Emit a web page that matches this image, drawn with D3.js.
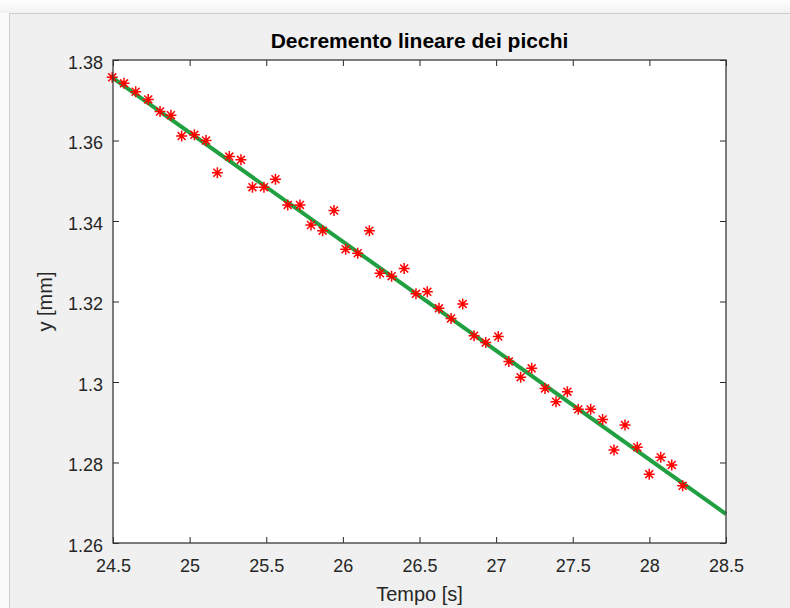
<!DOCTYPE html>
<html><head><meta charset="utf-8">
<script src="https://cdn.jsdelivr.net/npm/d3@7"></script>
<style>html,body{margin:0;padding:0;background:#f7f7f7;}svg{display:block;}</style>
</head><body>
<script>
// Data: peak times (s) and peak heights (mm)
const tempo = [24.495,24.572,24.648,24.730,24.807,24.878,24.948,25.031,25.107,25.181,
  25.259,25.335,25.410,25.485,25.560,25.640,25.720,25.792,25.868,25.942,
  26.018,26.097,26.173,26.242,26.318,26.400,26.477,26.551,26.627,26.706,
  26.782,26.856,26.932,27.014,27.083,27.160,27.232,27.319,27.391,27.465,
  27.536,27.617,27.695,27.769,27.841,27.921,27.999,28.074,28.146,28.217];
const picchi = [1.3757,1.3742,1.3721,1.3702,1.3672,1.3663,1.3611,1.3614,1.3600,1.3520,
  1.3560,1.3552,1.3484,1.3484,1.3504,1.3440,1.3440,1.3390,1.3376,1.3426,
  1.3330,1.3320,1.3376,1.3270,1.3263,1.3282,1.3219,1.3224,1.3183,1.3158,
  1.3194,1.3115,1.3098,1.3113,1.3051,1.3012,1.3034,1.2984,1.2951,1.2976,
  1.2932,1.2932,1.2907,1.2831,1.2893,1.2838,1.2771,1.2813,1.2794,1.2742];
// Linear fit endpoints
const fitT = [24.5, 28.5];
const fitY = [1.3755, 1.2672];
const xTicks = [24.5,25,25.5,26,26.5,27,27.5,28,28.5];
const yTicks = [1.26,1.28,1.30,1.32,1.34,1.36,1.38];
const titleText = "Decremento lineare dei picchi";
const xLabel = "Tempo [s]";
const yLabel = "y [mm]";

const W = 790, H = 608;
const L = 113, R = 726, T = 60, B = 543;
const font = "'Liberation Sans', Arial, Helvetica, sans-serif";
const ink = "#262626";

const svg = d3.select("body").append("svg").attr("width", W).attr("height", H);

// Window background
const defs = svg.append("defs");
const g1 = defs.append("linearGradient").attr("id","topg").attr("x1",0).attr("y1",0).attr("x2",0).attr("y2",1);
g1.append("stop").attr("offset","0%").attr("stop-color","#ffffff");
g1.append("stop").attr("offset","100%").attr("stop-color","#f1f1f1");
svg.append("rect").attr("width",W).attr("height",H).attr("fill","#fbfbfb");
svg.append("rect").attr("width",W).attr("height",13).attr("fill","url(#topg)");
svg.append("rect").attr("x",9.5).attr("y",13.5).attr("width",W).attr("height",H)
  .attr("fill","#f0f0f0").attr("stroke","#cdcdcd").attr("stroke-width",1);

const x = d3.scaleLinear().domain([24.5, 28.5]).range([L, R]);
const y = d3.scaleLinear().domain([1.26, 1.38]).range([B, T]);

// Plot area
svg.append("rect").attr("x",L).attr("y",T).attr("width",R-L).attr("height",B-T).attr("fill","#fff");

const fmt = d => String(+d.toFixed(2));
const tl = 6;
function styleAxis(g){
  g.select(".domain").remove();
  g.selectAll(".tick line").attr("stroke", ink).attr("stroke-width",1);
  g.selectAll(".tick text").attr("fill", ink).attr("font-family", font).attr("font-size", 18);
}
// bottom
svg.append("g").attr("transform",`translate(0,${B})`)
  .call(d3.axisBottom(x).tickValues(xTicks).tickFormat(fmt).tickSizeInner(-tl).tickSizeOuter(0).tickPadding(16))
  .call(styleAxis);
// top
svg.append("g").attr("transform",`translate(0,${T})`)
  .call(d3.axisTop(x).tickValues(xTicks).tickFormat("").tickSizeInner(-tl).tickSizeOuter(0))
  .call(styleAxis);
// left
const gl = svg.append("g").attr("transform",`translate(${L},0)`)
  .call(d3.axisLeft(y).tickValues(yTicks).tickFormat(fmt).tickSizeInner(-tl).tickSizeOuter(0).tickPadding(10))
  .call(styleAxis);
gl.selectAll(".tick text").attr("dy","0.45em");
// right
svg.append("g").attr("transform",`translate(${R},0)`)
  .call(d3.axisRight(y).tickValues(yTicks).tickFormat("").tickSizeInner(-tl).tickSizeOuter(0))
  .call(styleAxis);

// Fit line
svg.append("path")
  .datum(fitT.map((t,i)=>[t, fitY[i]]))
  .attr("d", d3.line().x(d=>x(d[0])).y(d=>y(d[1])))
  .attr("stroke","#20a040").attr("stroke-width",4).attr("fill","none");

// Asterisk markers
const r = 5.5, rd = r*0.72;
const star = `M${-r},0L${r},0M0,${-r}L0,${r}M${-rd},${-rd}L${rd},${rd}M${-rd},${rd}L${rd},${-rd}`;
svg.append("g").selectAll("path").data(tempo).join("path")
  .attr("transform",(d,i)=>`translate(${x(d)},${y(picchi[i])})`)
  .attr("d", star).attr("stroke","#ff0000").attr("stroke-width",1.5).attr("fill","none");

// Box
svg.append("rect").attr("x",L).attr("y",T).attr("width",R-L).attr("height",B-T)
  .attr("fill","none").attr("stroke","#3a3a3a").attr("stroke-width",1.3);

// Title and labels
svg.append("text").attr("x",(L+R)/2).attr("y",48).attr("text-anchor","middle")
  .attr("font-family",font).attr("font-size",21).attr("font-weight","bold").attr("fill","#000")
  .text(titleText);
svg.append("text").attr("x",(L+R)/2).attr("y",601).attr("text-anchor","middle")
  .attr("font-family",font).attr("font-size",20).attr("fill",ink).text(xLabel);
svg.append("text").attr("transform",`translate(52,${(T+B)/2}) rotate(-90)`).attr("text-anchor","middle")
  .attr("font-family",font).attr("font-size",20).attr("fill",ink).text(yLabel);
</script>
</body></html>
